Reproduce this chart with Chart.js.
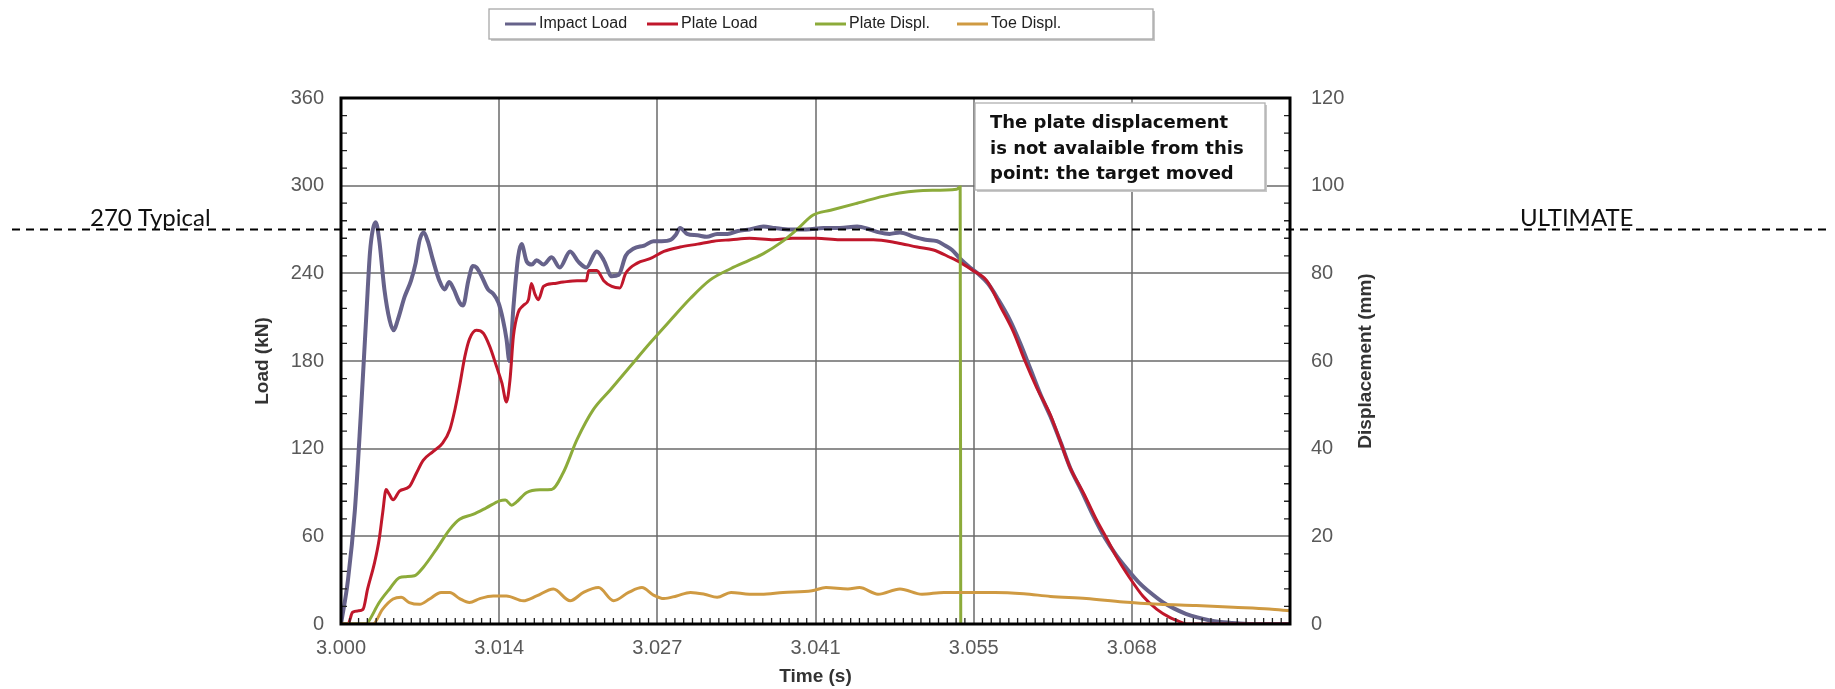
<!DOCTYPE html>
<html>
<head>
<meta charset="utf-8">
<title>Impact Load and Displacement</title>
<script src="https://cdn.jsdelivr.net/npm/chart.js@4.4.1/dist/chart.umd.min.js"></script>
<style>
  html, body { margin: 0; padding: 0; background: #ffffff; }
  canvas { display: block; }
</style>
</head>
<body>
<canvas id="impactChart" width="1835" height="689"></canvas>
<script>
// Axis ticks
const timeTicks = [3.000, 3.0136667, 3.0273333, 3.041, 3.0546667, 3.0683333, 3.082];
const timeLabels = ['3.000', '3.014', '3.027', '3.041', '3.055', '3.068', ''];
const loadTicks = [0, 60, 120, 180, 240, 300, 360];
const dispTicks = [0, 20, 40, 60, 80, 100, 120];

// Impact load (kN) against time (s)
const impactTime = [
  3.0000, 3.0006, 3.0012, 3.0017, 3.0022, 3.0025, 3.00275, 3.0030, 3.0033, 3.00375,
  3.0042, 3.00455, 3.0049, 3.0055, 3.00605, 3.00645, 3.0068, 3.00715, 3.0075, 3.00795,
  3.0085, 3.00895, 3.00935, 3.00975, 3.01025, 3.01055, 3.0110, 3.0114, 3.0117, 3.01215,
  3.0127, 3.01315, 3.0136, 3.0140, 3.0143, 3.01455, 3.0149, 3.0153, 3.0156, 3.01605,
  3.0165, 3.0169, 3.0175, 3.0182, 3.0189, 3.0198, 3.0205, 3.0212, 3.0221, 3.0227,
  3.0234, 3.0240, 3.0246, 3.0253, 3.0262, 3.0270, 3.0277, 3.0285, 3.0289, 3.0293,
  3.0299, 3.0308, 3.0316, 3.0325, 3.0334, 3.0343, 3.0353, 3.0365, 3.0375, 3.0388,
  3.0402, 3.0417, 3.0431, 3.0446, 3.0457, 3.0465, 3.0474, 3.0483, 3.0495, 3.0505,
  3.0515, 3.0522, 3.0528, 3.0535, 3.0542, 3.0550, 3.0559, 3.0568, 3.0578, 3.0587,
  3.0596, 3.0605, 3.0613, 3.0622, 3.0630, 3.0640, 3.0650, 3.0660, 3.0670, 3.0680,
  3.0690, 3.0700, 3.0710, 3.0720, 3.0730, 3.0740, 3.0750, 3.0760, 3.0775, 3.0790, 3.0820
];
const impactLoad = [
  0, 30, 78, 142, 213, 254, 270, 275, 263, 229,
  208, 201, 208, 224, 235, 247, 263, 268, 262, 249,
  235, 229, 234, 229, 220, 218, 235, 245, 244, 238,
  229, 226, 220, 208, 195, 180, 217, 251, 260, 248,
  246, 249, 246, 251, 244, 255, 248, 244, 255, 249,
  238, 239, 252, 257, 259, 262, 262, 263, 266, 271,
  267, 266, 265, 267, 267, 269, 270, 272, 271, 270,
  270, 271, 271, 272, 270, 268, 267, 268, 265, 263,
  262, 259, 256, 250, 245, 240, 233, 222, 208, 192,
  174, 156, 142, 124, 107, 91, 74, 59, 47, 37,
  28, 21, 15, 10.5, 7, 4.5, 2.6, 1.4, 0.5, 0, 0
];

// Plate load (kN)
const plateLoadTime = [
  3.0000, 3.0006, 3.0010, 3.0015, 3.0019, 3.0023, 3.0029, 3.0033, 3.0036, 3.0039,
  3.00415, 3.0045, 3.00505, 3.0059, 3.0065, 3.0071, 3.00795, 3.0088, 3.0094, 3.00985,
  3.01025, 3.0107, 3.0111, 3.0117, 3.0123, 3.01285, 3.01345, 3.0139, 3.0143, 3.0146,
  3.0149, 3.0153, 3.01575, 3.0162, 3.01645, 3.01675, 3.01705, 3.0175, 3.01835, 3.0192,
  3.0204, 3.0212, 3.0214, 3.0221, 3.0227, 3.0234, 3.0241, 3.0246, 3.0256, 3.0267,
  3.0279, 3.0293, 3.0308, 3.0322, 3.0337, 3.0353, 3.0374, 3.0390, 3.0411, 3.0431,
  3.0450, 3.0460, 3.0480, 3.0498, 3.0512, 3.0526, 3.0536, 3.0546, 3.0558, 3.0570,
  3.0581, 3.0591, 3.0601, 3.0613, 3.06215, 3.0630, 3.0642, 3.0653, 3.0662, 3.0670,
  3.0682, 3.0693, 3.0705, 3.0716, 3.0725, 3.0731, 3.0820
];
const plateLoad = [
  0, 0, 8, 9, 10, 24, 42, 58, 76, 92,
  89, 85, 91, 94, 103, 112, 118, 124, 133, 147,
  163, 183, 195, 201, 199, 190, 176, 165, 152, 167,
  197, 213, 218, 222, 233, 226, 222, 231, 233, 234,
  235, 235, 242, 242, 235, 231, 230, 240, 247, 250,
  255, 258, 260, 262, 263, 264, 263, 264, 264, 263,
  263, 263, 261, 258, 256, 251, 247, 242, 235, 217,
  200, 180, 162, 143, 125, 107, 89, 71, 58, 46,
  31, 19, 10, 4.5, 1.5, 0, 0
];

// Plate displacement (mm), lost once the target moved
const plateDispTime = [
  3.0000, 3.0022, 3.0025, 3.0033, 3.0042, 3.00505, 3.0056, 3.00635, 3.0071, 3.00825,
  3.0094, 3.01025, 3.0114, 3.01255, 3.0137, 3.0142, 3.01475, 3.01515, 3.01605, 3.0172,
  3.0182, 3.0192, 3.0204, 3.0218, 3.0233, 3.0250, 3.0267, 3.0285, 3.0302, 3.0319,
  3.0337, 3.0353, 3.0365, 3.0380, 3.0394, 3.0408, 3.0423, 3.0446, 3.0474, 3.0503,
  3.0532, 3.0535, 3.05355
];
const plateDisp = [
  0, 0, 1.1, 4.9, 8, 10.6, 10.8, 11, 12.9, 17.1,
  21.6, 23.9, 25, 26.5, 28.1, 28.3, 27.1, 27.8, 30, 30.6,
  30.7, 34.5, 42.1, 48.9, 53.5, 58.8, 64.1, 69.4, 74.3, 78.5,
  81.1, 83, 84.5, 87, 90, 93.3, 94.4, 96, 97.9, 98.9,
  99.2, 99.7, 0
];

// Toe displacement (mm)
const toeDispTime = [
  3.0000, 3.00275, 3.0036, 3.0045, 3.0052, 3.0059, 3.0068, 3.00765, 3.00865, 3.0094,
  3.01025, 3.0111, 3.0120, 3.01315, 3.0143, 3.01575, 3.0169, 3.01835, 3.0198, 3.02095,
  3.02225, 3.02355, 3.02485, 3.0260, 3.0270, 3.0279, 3.0290, 3.0302, 3.0314, 3.0325,
  3.0337, 3.0353, 3.0363, 3.0382, 3.0407, 3.0419, 3.0438, 3.0448, 3.0464, 3.0483,
  3.0502, 3.0521, 3.0540, 3.0565, 3.0590, 3.0613, 3.0644, 3.0676, 3.0707, 3.0739,
  3.0771, 3.0802, 3.0820
];
const toeDisp = [
  0, 0, 3.4, 5.7, 6.1, 4.9, 4.5, 5.7, 7.2, 7.2,
  5.8, 4.9, 5.8, 6.4, 6.4, 5.3, 6.4, 8.0, 5.3, 7.2,
  8.3, 5.3, 7.2, 8.3, 6.6, 5.8, 6.4, 7.2, 6.8, 6.1,
  7.2, 6.8, 6.8, 7.2, 7.6, 8.3, 8.0, 8.3, 6.8, 8.0,
  6.8, 7.2, 7.2, 7.2, 6.9, 6.3, 5.8, 5.0, 4.5, 4.2,
  3.8, 3.4, 3.0
];

// Reference load line and notes
const typicalLoad = 270;
const typicalLabel = '270 Typical';
const ultimateLabel = 'ULTIMATE';
const noteLines = ['The plate displacement', 'is not avalaible from this', 'point: the target moved'];
const rightAxisTitle = 'Displacement (mm)';

function toPoints(times, values) {
  return times.map((t, i) => ({ x: t, y: values[i] }));
}

// evenly split each major interval for the small axis ticks
function minorValues(ticks, parts) {
  const out = [];
  for (let i = 0; i < ticks.length - 1; i++) {
    for (let k = 1; k < parts; k++) {
      out.push(ticks[i] + (ticks[i + 1] - ticks[i]) * k / parts);
    }
  }
  return out;
}

function shadowBox(ctx, x, y, w, h, edge) {
  ctx.fillStyle = '#c8c8c8';
  ctx.fillRect(x + 2, y + 2, w, h);
  ctx.fillStyle = '#ffffff';
  ctx.fillRect(x, y, w, h);
  ctx.strokeStyle = edge;
  ctx.lineWidth = 1.3;
  ctx.strokeRect(x, y, w, h);
}

const chartDecor = {
  id: 'chartDecor',
  beforeDraw(chart) {
    const ctx = chart.ctx;
    ctx.save();
    ctx.fillStyle = '#ffffff';
    ctx.fillRect(0, 0, chart.width, chart.height);
    ctx.restore();
  },
  afterDraw(chart) {
    const { ctx, chartArea: area } = chart;
    const xs = chart.scales.x, ys = chart.scales.y, ys2 = chart.scales.y1;
    ctx.save();

    // small ticks inside the frame
    ctx.strokeStyle = '#222';
    ctx.lineWidth = 1.3;
    ctx.beginPath();
    minorValues(loadTicks, 5).forEach(v => {
      const py = ys.getPixelForValue(v);
      ctx.moveTo(area.left, py);
      ctx.lineTo(area.left + 6, py);
    });
    minorValues(dispTicks, 5).forEach(v => {
      const py = ys2.getPixelForValue(v);
      ctx.moveTo(area.right, py);
      ctx.lineTo(area.right - 6, py);
    });
    minorValues(timeTicks, 18).forEach(v => {
      const px = xs.getPixelForValue(v);
      ctx.moveTo(px, area.bottom);
      ctx.lineTo(px, area.bottom - 6);
    });
    ctx.stroke();

    // plot frame
    ctx.strokeStyle = '#000';
    ctx.lineWidth = 3;
    ctx.strokeRect(area.left, area.top, area.right - area.left, area.bottom - area.top);

    // legend in a framed box above the plot
    const legendStarts = [505, 647, 815, 957];
    shadowBox(ctx, 489, 9, 664, 30, '#a8a8a8');
    ctx.font = '16px "Liberation Sans", Arial, sans-serif';
    ctx.textAlign = 'left';
    ctx.textBaseline = 'middle';
    chart.data.datasets.forEach((ds, i) => {
      const lx = legendStarts[i];
      ctx.strokeStyle = ds.borderColor;
      ctx.lineWidth = 3;
      ctx.beginPath();
      ctx.moveTo(lx, 24);
      ctx.lineTo(lx + 31, 24);
      ctx.stroke();
      ctx.fillStyle = '#222';
      ctx.fillText(ds.label, lx + 34, 24);
    });

    // note box
    const bx = area.left + 634, by = area.top + 5, bw = 290, bh = 87;
    shadowBox(ctx, bx, by, bw, bh, '#b0b0b0');
    ctx.fillStyle = '#111';
    ctx.font = 'bold 18px "DejaVu Sans", Verdana, sans-serif';
    ctx.textAlign = 'left';
    ctx.textBaseline = 'alphabetic';
    noteLines.forEach((line, i) => ctx.fillText(line, bx + 15, by + 25 + i * 25.5));

    // right axis title reads bottom to top
    ctx.save();
    ctx.translate(area.right + 76, (area.top + area.bottom) / 2);
    ctx.rotate(-Math.PI / 2);
    ctx.font = 'bold 19px "Liberation Sans", Arial, sans-serif';
    ctx.fillStyle = '#333';
    ctx.textAlign = 'center';
    ctx.textBaseline = 'middle';
    ctx.fillText(rightAxisTitle, 0, 0);
    ctx.restore();

    // 270 kN line across the whole figure
    const yRef = ys.getPixelForValue(typicalLoad);
    ctx.setLineDash([8, 6]);
    ctx.strokeStyle = '#000';
    ctx.lineWidth = 2;
    ctx.beginPath();
    ctx.moveTo(12, yRef);
    ctx.lineTo(chart.width - 6, yRef);
    ctx.stroke();
    ctx.setLineDash([]);
    ctx.font = '24px Lato, "Open Sans", sans-serif';
    ctx.fillStyle = '#111';
    ctx.textAlign = 'left';
    ctx.textBaseline = 'alphabetic';
    ctx.fillText(typicalLabel, 90, yRef - 4);
    ctx.fillText(ultimateLabel, 1520, yRef - 4);

    ctx.restore();
  }
};

Chart.defaults.font.family = '"Liberation Sans", Arial, sans-serif';

const gridStyle = { color: 'rgba(105,105,105,0.75)', lineWidth: 2, drawTicks: false };

new Chart(document.getElementById('impactChart').getContext('2d'), {
  type: 'line',
  data: {
    datasets: [{
      label: 'Impact Load',
      data: toPoints(impactTime, impactLoad),
      borderColor: '#66628a',
      borderWidth: 4,
      yAxisID: 'y',
      order: 4
    }, {
      label: 'Plate Load',
      data: toPoints(plateLoadTime, plateLoad),
      borderColor: '#c0172b',
      borderWidth: 3,
      yAxisID: 'y',
      order: 3
    }, {
      label: 'Plate Displ.',
      data: toPoints(plateDispTime, plateDisp),
      borderColor: '#8cab3a',
      borderWidth: 3,
      yAxisID: 'y1',
      order: 2
    }, {
      label: 'Toe Displ.',
      data: toPoints(toeDispTime, toeDisp),
      borderColor: '#cf9a42',
      borderWidth: 3,
      yAxisID: 'y1',
      order: 1
    }]
  },
  options: {
    responsive: false,
    animation: false,
    layout: { padding: { top: 98, left: 0, right: 0, bottom: 0 } },
    elements: {
      point: { radius: 0 },
      line: { cubicInterpolationMode: 'monotone', fill: false }
    },
    plugins: {
      legend: { display: false },
      tooltip: { enabled: false }
    },
    scales: {
      x: {
        type: 'linear',
        min: 3.000,
        max: 3.082,
        afterBuildTicks: scale => { scale.ticks = timeTicks.map(v => ({ value: v })); },
        afterFit: scale => { scale.height = 65; },
        grid: gridStyle,
        border: { display: false },
        ticks: {
          autoSkip: false,
          maxRotation: 0,
          padding: 12,
          color: '#595959',
          font: { size: 20 },
          callback: (value, index) => timeLabels[index]
        },
        title: {
          display: true,
          text: 'Time (s)',
          color: '#333',
          font: { size: 19, weight: 'bold' },
          padding: { top: 0, bottom: 1 }
        }
      },
      y: {
        position: 'left',
        min: 0,
        max: 360,
        afterBuildTicks: scale => { scale.ticks = loadTicks.map(v => ({ value: v })); },
        afterFit: scale => { scale.width = 341; },
        grid: gridStyle,
        border: { display: false },
        ticks: { padding: 17, color: '#595959', font: { size: 20 } },
        title: {
          display: true,
          text: 'Load (kN)',
          color: '#333',
          font: { size: 19, weight: 'bold' },
          padding: { top: 251, bottom: 0 }
        }
      },
      y1: {
        position: 'right',
        min: 0,
        max: 120,
        afterBuildTicks: scale => { scale.ticks = dispTicks.map(v => ({ value: v })); },
        afterFit: scale => { scale.width = 545; },
        grid: { drawOnChartArea: false, drawTicks: false },
        border: { display: false },
        ticks: { padding: 21, color: '#595959', font: { size: 20 } }
      }
    }
  },
  plugins: [chartDecor]
});
</script>
</body>
</html>
